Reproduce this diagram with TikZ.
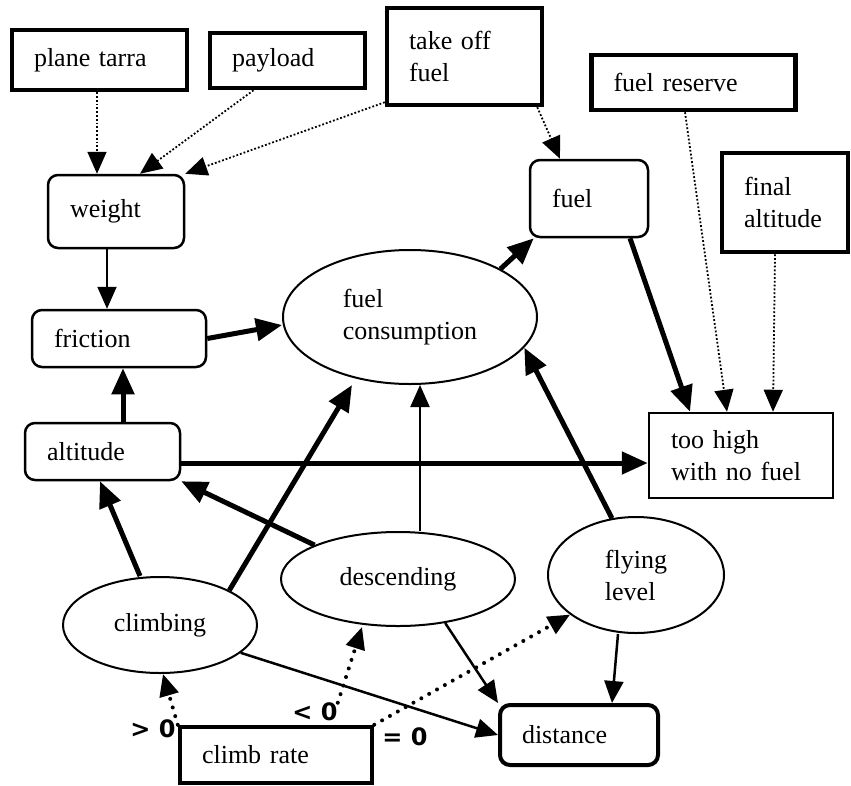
\documentclass[tikz,border=0pt]{standalone}
\usepackage{fontspec}
\setmainfont{Liberation Serif}
\newfontfamily\signfont{DejaVu Sans}
\usepackage{tikz}
\usetikzlibrary{arrows.meta, shapes.geometric}

\begin{document}
\begin{tikzpicture}[x=1pt, y=-1pt,
  every node/.style={font=\fontsize{26}{32}\selectfont},
  given/.style={draw, line width=4.5pt, align=left, inner xsep=22pt, inner ysep=0pt},
  state/.style={draw, rounded corners=10pt, line width=2.5pt, align=left, inner xsep=22pt, inner ysep=0pt},
  event/.style={draw, ellipse, line width=2pt, inner sep=0pt, align=left},
  sign/.style={font=\signfont\bfseries\fontsize{24}{24}\selectfont, inner sep=0pt},
  tip/.style={-{Triangle[length=22pt, width=19pt]}},
  thin link/.style={tip, line width=2pt},
  mid link/.style={tip, line width=2.5pt},
  thick link/.style={-{Triangle[length=26pt, width=22pt]}, line width=5pt},
  input/.style={tip, line width=1.8pt, dotted},
  rate/.style={tip, line width=4pt, line cap=round, dash pattern=on 0pt off 9pt},
]
  \useasboundingbox (0,0) rectangle (851,785);
  % Given quantities
  \node[given, text width=131pt, minimum height=60pt] (tarra) at (99.5,60) {plane tarra};
  \node[given, text width=111pt, minimum height=55pt] (payload) at (287.5,60.5) {payload};
  \node[given, text width=111pt, minimum height=97pt] (takeoff) at (464.5,56.5) {take off\\fuel};
  \node[given, text width=160pt, minimum height=55pt] (reserve) at (693.5,82.5) {fuel reserve};
  \node[given, text width=82pt, minimum height=99pt] (finalalt) at (785,202.5) {final\\altitude};
  \node[given, text width=148pt, minimum height=56pt] (climbrate) at (276,755) {climb rate};
  % States
  \node[state, text width=92pt, minimum height=73pt] (weight) at (116,211.5) {weight};
  \node[state, text width=74pt, minimum height=77pt] (fuel) at (589,198.5) {fuel};
  \node[state, text width=130pt, minimum height=57pt] (friction) at (119,338.5) {friction};
  \node[state, text width=111pt, minimum height=57pt] (altitude) at (102.5,451.5) {altitude};
  \node[state, line width=4pt, text width=114pt, minimum height=60pt] (distance) at (579,735) {distance};
  \node[draw, line width=2.5pt, align=left, inner xsep=22pt, inner ysep=0pt,
    text width=140pt, minimum height=85pt] (toohigh) at (741,455.5) {too high\\with no fuel};
  % Flight phases
  \node[event, minimum width=254pt, minimum height=134pt] (consumption) at (410,317) {fuel\\consumption};
  \node[event, minimum width=194pt, minimum height=96pt] (climbing) at (160,625) {climbing};
  \node[event, minimum width=234pt, minimum height=94pt] (descending) at (398,579) {descending};
  \node[event, minimum width=176pt, minimum height=116pt] (flyinglevel) at (636,575) {flying\\level};
  % Climb rate cases
  \node[sign] (gt) at (153,729) {> 0};
  \node[sign] (lt) at (315,712) {< 0};
  \node[sign] (eq) at (405,737) {= 0};

  % Dotted inputs
  \draw[input] ([xshift=-2.5pt]tarra.south) -- ([xshift=-19pt]weight.north);
  \draw[input] ([xshift=-34pt]payload.south) -- ([xshift=24pt]weight.north);
  \draw[input] ([yshift=5pt]takeoff.south west) -- (weight.north east);
  \draw[input] ([xshift=-7pt]takeoff.south east) -- ([xshift=-29pt]fuel.north);
  \draw[input] ([xshift=-8.5pt]reserve.south) -- ([xshift=-14pt]toohigh.north);
  \draw[input] ([xshift=-10pt]finalalt.south) -- ([xshift=32pt]toohigh.north);
  % Influences
  \draw[thin link] ([xshift=-9pt]weight.south) -- ([xshift=-12pt]friction.north);
  \draw[thick link] (friction.east) -- ([yshift=-8pt]consumption.west);
  \draw[thick link] ([xshift=20.5pt]altitude.north) -- ([xshift=4pt]friction.south);
  \draw[thick link] ([yshift=-11.5pt]altitude.east) -- ([yshift=-7.5pt]toohigh.west);
  \draw[thick link] (consumption.north east) -- ([xshift=5pt]fuel.south west);
  \draw[thick link] ([xshift=41pt]fuel.south) -- ([xshift=-51pt]toohigh.north);
  \draw[thick link] ([xshift=-20pt]climbing.north) -- ([xshift=-2.5pt]altitude.south);
  \draw[thick link] (climbing.north east) -- ([xshift=-58pt]consumption.south);
  \draw[thick link] (descending.north west) -- (altitude.south east);
  \draw[thin link] ([xshift=22pt]descending.north) -- ([xshift=10pt]consumption.south);
  \draw[thick link] (flyinglevel.113) -- (consumption.-15);
  \draw[mid link] (climbing.-19) -- (distance.west);
  \draw[mid link] (descending.-43) -- (distance.north west);
  \draw[mid link] ([xshift=-18pt]flyinglevel.south) -- ([xshift=33pt]distance.north);
  % Climb rate selects the phase
  \draw[rate] (climbrate.north west) -- ([xshift=3pt]climbing.south);
  \draw[rate] (lt.north east) -- ([xshift=-36pt]descending.south);
  \draw[rate] (climbrate.north east) -- (flyinglevel.211);
\end{tikzpicture}
\end{document}
